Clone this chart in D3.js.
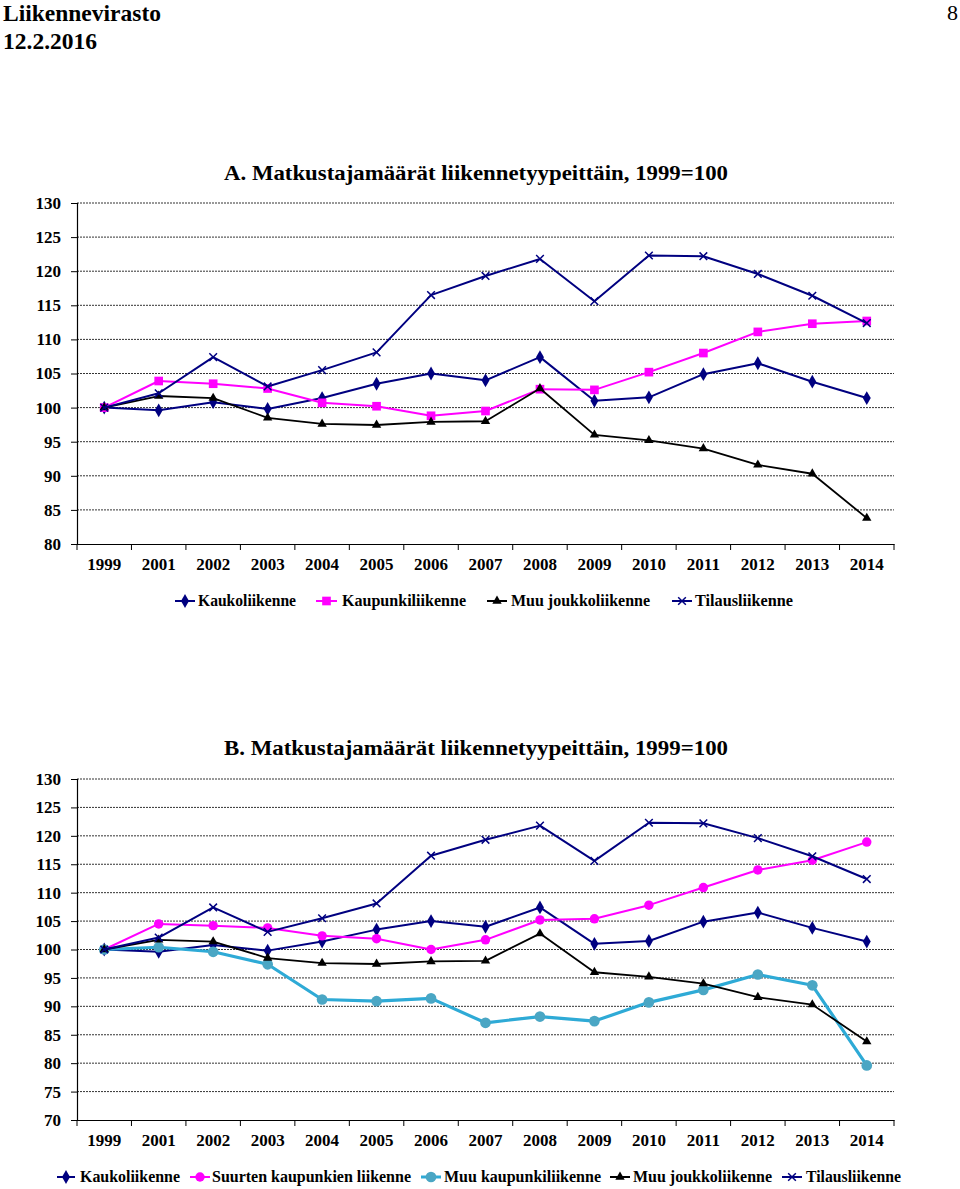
<!DOCTYPE html>
<html><head><meta charset="utf-8">
<script src="https://cdn.jsdelivr.net/npm/d3@7"></script>
<style>
html,body{margin:0;padding:0;background:#fff;}
svg{display:block;font-family:"Liberation Serif","Times New Roman",serif;font-weight:bold;}
</style></head>
<body><svg id="c" width="960" height="1189"></svg>
<script>
const years = ["1999","2001","2002","2003","2004","2005","2006","2007","2008","2009","2010","2011","2012","2013","2014"];
const kauko = [100,99.6,100.8,99.8,101.4,103.5,105.0,104.0,107.4,101.0,101.5,104.9,106.5,103.8,101.4];
const kaupunki = [100,103.9,103.5,102.8,100.7,100.2,98.8,99.5,102.7,102.6,105.2,108.0,111.1,112.3,112.7];
const muuJoukko = [100,101.7,101.4,98.5,97.6,97.45,97.9,98.0,102.8,96.0,95.2,94.0,91.6,90.3,83.8];
const tilaus = [100,102.1,107.4,103.1,105.5,108.1,116.5,119.3,121.8,115.6,122.3,122.2,119.6,116.4,112.4];
const suurten = [100,104.5,104.2,103.8,102.4,101.9,100.0,101.7,105.2,105.4,107.8,110.9,114.0,115.7,118.9];
const muuKaupunki = [100,100.4,99.6,97.4,91.2,90.9,91.4,87.1,88.2,87.4,90.7,92.9,95.6,93.7,79.6];
const ticksA = [80,85,90,95,100,105,110,115,120,125,130];
const ticksB = [70,75,80,85,90,95,100,105,110,115,120,125,130];
const titleA = "A. Matkustajamäärät liikennetyypeittäin, 1999=100";
const titleB = "B. Matkustajamäärät liikennetyypeittäin, 1999=100";

const NAVY="#000080", MAG="#FF00FF", BLK="#000000", LBLUE="#2EAAD6", LBLUE_M="#4AA6C4";
const FONT = "'Liberation Serif','Times New Roman',serif";
const symX = d3.symbolTimes || d3.symbolX || d3.symbolCross;

const seriesA = [
  {name:"Kaukoliikenne", data:kauko, color:NAVY, mcolor:NAVY, sym:d3.symbolDiamond, size:55, w:2, stroke:false},
  {name:"Kaupunkiliikenne", data:kaupunki, color:MAG, mcolor:MAG, sym:d3.symbolSquare, size:75, w:2, stroke:false},
  {name:"Muu joukkoliikenne", data:muuJoukko, color:BLK, mcolor:BLK, sym:d3.symbolTriangle, size:38, w:1.8, stroke:false},
  {name:"Tilausliikenne", data:tilaus, color:NAVY, mcolor:NAVY, sym:symX, size:40, w:2, stroke:true}
];
const seriesB = [
  {name:"Kaukoliikenne", data:kauko, color:NAVY, mcolor:NAVY, sym:d3.symbolDiamond, size:55, w:2, stroke:false},
  {name:"Suurten kaupunkien liikenne", data:suurten, color:MAG, mcolor:MAG, sym:d3.symbolCircle, size:70, w:2, stroke:false},
  {name:"Muu kaupunkiliikenne", data:muuKaupunki, color:LBLUE, mcolor:LBLUE_M, sym:d3.symbolCircle, size:90, w:3.2, stroke:false},
  {name:"Muu joukkoliikenne", data:muuJoukko, color:BLK, mcolor:BLK, sym:d3.symbolTriangle, size:38, w:1.8, stroke:false},
  {name:"Tilausliikenne", data:tilaus, color:NAVY, mcolor:NAVY, sym:symX, size:40, w:2, stroke:true}
];

const svg = d3.select("#c");
// header
svg.append("text").attr("x",3).attr("y",21).attr("font-size",23.5).text("Liikennevirasto");
svg.append("text").attr("x",3).attr("y",49).attr("font-size",23.5).text("12.2.2016");
svg.append("text").attr("x",958).attr("y",20).attr("font-size",22).attr("font-weight","normal").attr("text-anchor","end").text("8");

const x = d3.scaleBand().domain(years).range([77,894]);

function marker(g, s, cx, cy){
  const p = g.append("path").attr("d", d3.symbol().type(s.sym).size(s.size)())
    .attr("transform",`translate(${cx},${cy})`);
  if(s.stroke) p.attr("fill","none").attr("stroke",s.mcolor).attr("stroke-width",1.5);
  else p.attr("fill",s.mcolor);
}

function chart(opts){
  const {y, ticks, series, title, titleY, legend, legendY} = opts;
  const g = svg.append("g");
  const bottom = y(ticks[0]);
  // gridlines
  g.selectAll("line.grid").data(ticks.slice(1)).join("line")
    .attr("x1",77).attr("x2",894).attr("y1",d=>y(d)).attr("y2",d=>y(d))
    .attr("stroke","#333").attr("stroke-width",1).attr("stroke-dasharray","2,1");
  // y axis
  const ya = g.append("g").attr("transform","translate(77,0)")
    .call(d3.axisLeft(y).tickValues(ticks).tickSize(6).tickPadding(10).tickFormat(d3.format("d")));
  ya.attr("font-family",FONT);
  ya.select(".domain").attr("stroke","#000").attr("stroke-width",1.2);
  ya.selectAll("line").attr("stroke","#000");
  ya.selectAll("text").attr("font-size",17).attr("font-weight","bold").attr("fill","#000");
  // x axis
  const xa = g.append("g").attr("transform",`translate(0,${bottom})`)
    .call(d3.axisBottom(x).tickSize(0).tickPadding(14));
  xa.attr("font-family",FONT);
  xa.select(".domain").attr("stroke","#000").attr("stroke-width",1.2);
  xa.selectAll("text").attr("font-size",17).attr("font-weight","bold").attr("fill","#000");
  const bounds = years.map(d=>x(d)).concat([x.range()[1]]);
  g.selectAll("line.xt").data(bounds).join("line")
    .attr("x1",d=>d).attr("x2",d=>d).attr("y1",bottom).attr("y2",bottom+6)
    .attr("stroke","#000").attr("stroke-width",1);
  // title
  g.append("text").attr("x",224).attr("y",titleY).attr("font-size",22)
    .attr("textLength",504).attr("lengthAdjust","spacingAndGlyphs").text(title);
  // lines
  const cx = d => x(d) + x.bandwidth()/2;
  series.forEach(s=>{
    const line = d3.line().x((d,i)=>cx(years[i])).y(d=>y(d));
    g.append("path").datum(s.data).attr("d",line).attr("fill","none")
      .attr("stroke",s.color).attr("stroke-width",s.w).attr("stroke-linejoin","round");
    s.data.forEach((v,i)=>marker(g,s,cx(years[i]),y(v)));
  });
  // legend
  legend.forEach((L,i)=>{
    const s = series[i];
    g.append("line").attr("x1",L[0]).attr("x2",L[1]).attr("y1",legendY).attr("y2",legendY)
      .attr("stroke",s.color).attr("stroke-width",s.w>3?3:2);
    marker(g,s,(L[0]+L[1])/2,legendY);
    g.append("text").attr("x",L[2]).attr("y",legendY+5).attr("font-size",17)
      .attr("textLength",L[3]).attr("lengthAdjust","spacingAndGlyphs").text(s.name);
  });
}

chart({
  y: d3.scaleLinear().domain([80,130]).range([544,203]),
  ticks: ticksA, series: seriesA, title: titleA, titleY: 180,
  legend: [[175,195,198,98],[316,337,342,124],[487,507,511,139],[672,692,695,98]], legendY: 601
});
chart({
  y: d3.scaleLinear().domain([70,130]).range([1120,779]),
  ticks: ticksB, series: seriesB, title: titleB, titleY: 755,
  legend: [[57,75,80,100],[190,210,212,199],[421,441,444,157],[610,630,633,139],[782,802,806,95]], legendY: 1177
});
</script></body></html>
